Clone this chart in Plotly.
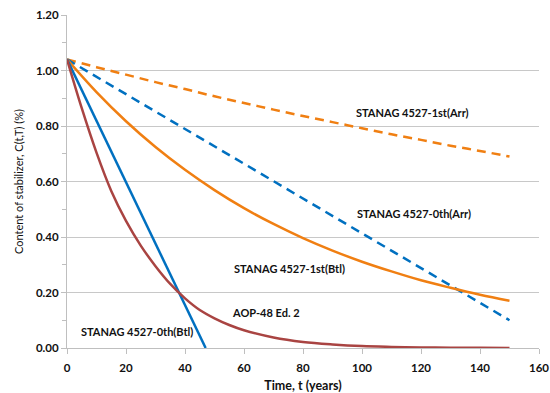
import plotly.graph_objects as go

# Time (years)
t_lin = [0, 150]
t_btl0 = [0, 47]
t_curve = [0, 10, 20, 30, 40, 50, 60, 70, 80, 90, 100, 110, 120, 130, 140, 150]
t_aop = [0, 5, 10, 15, 20, 25, 30, 35, 40, 45, 50, 55, 60, 70, 80, 90, 100, 110, 120, 130, 140, 150]

# Stabilizer content (%)
c_1st_arr = [1.04, 1.012, 0.985, 0.958, 0.933, 0.907, 0.883, 0.859, 0.836, 0.814, 0.792, 0.770, 0.750, 0.729, 0.710, 0.690]
c_0th_arr = [1.04, 0.10]
c_1st_btl = [1.04, 0.922, 0.817, 0.724, 0.642, 0.569, 0.504, 0.447, 0.396, 0.351, 0.311, 0.276, 0.244, 0.217, 0.192, 0.170]
c_0th_btl = [1.04, 0.0]
c_aop48 = [1.04, 0.864, 0.704, 0.566, 0.458, 0.369, 0.295, 0.231, 0.179, 0.137, 0.107, 0.083, 0.064,
           0.038, 0.022, 0.013, 0.007, 0.004, 0.002, 0.001, 0.001, 0.0]

labels = ["STANAG 4527-1st(Arr)", "STANAG 4527-0th(Arr)", "STANAG 4527-1st(Btl)",
          "AOP-48 Ed. 2", "STANAG 4527-0th(Btl)"]

ORANGE = "#F07F12"
BLUE = "#0070C0"
BROWN = "#A94442"
FONT = "Lato"
TXT = "#111111"

fig = go.Figure()
fig.add_trace(go.Scatter(x=t_curve, y=c_1st_arr, mode="lines", line=dict(color=ORANGE, width=2.5, dash="9px,6px"), line_shape="spline"))
fig.add_trace(go.Scatter(x=t_lin, y=c_0th_arr, mode="lines", line=dict(color=BLUE, width=2.5, dash="9px,6px")))
fig.add_trace(go.Scatter(x=t_curve, y=c_1st_btl, mode="lines", line=dict(color=ORANGE, width=2.5), line_shape="spline"))
fig.add_trace(go.Scatter(x=t_btl0, y=c_0th_btl, mode="lines", line=dict(color=BLUE, width=2.5)))
fig.add_trace(go.Scatter(x=t_aop, y=c_aop48, mode="lines", line=dict(color=BROWN, width=2.5), line_shape="spline"))

label_pos = [(117.2, 0.850), (117.7, 0.483), (75.3, 0.287), (67.4, 0.129), (23.7, 0.058)]
for txt, (x, y) in zip(labels, label_pos):
    fig.add_annotation(x=x, y=y, text=txt, showarrow=False,
                       font=dict(family=FONT, size=11, color=TXT, weight="bold"))

fig.update_layout(
    width=550, height=393,
    margin=dict(l=67, r=11, t=15, b=45),
    paper_bgcolor="white", plot_bgcolor="white",
    showlegend=False,
    font=dict(family=FONT, size=11, color=TXT),
)
fig.update_xaxes(range=[0, 160], dtick=20, tick0=0, showgrid=False, automargin=False,
                 showline=True, linecolor="#BFBFBF", linewidth=1,
                 ticks="outside", ticklen=5, tickcolor="#BFBFBF",
                 ticklabelstandoff=4,
                 tickfont=dict(family=FONT, size=11.5, weight="bold"),
                 title=dict(text="Time, t (years)", font=dict(family=FONT, size=12.5, weight="bold"), standoff=9),
                 zeroline=False)
fig.update_yaxes(range=[0, 1.2], dtick=0.2, tick0=0, tickformat=".2f", automargin=False,
                 showgrid=True, gridcolor="#C8C8C8", gridwidth=1,
                 showline=True, linecolor="#BFBFBF", linewidth=1,
                 ticks="outside", ticklen=5, tickcolor="#BFBFBF",
                 minor=dict(dtick=0.1, ticks="outside", ticklen=4, tickcolor="#BFBFBF", showgrid=False),
                 tickfont=dict(family=FONT, size=11.5, weight="bold"),
                 title=dict(text="Content of stabilizer, C(t,T) (%)", font=dict(family=FONT, size=11), standoff=10),
                 zeroline=False)

fig.write_html("out.html")
